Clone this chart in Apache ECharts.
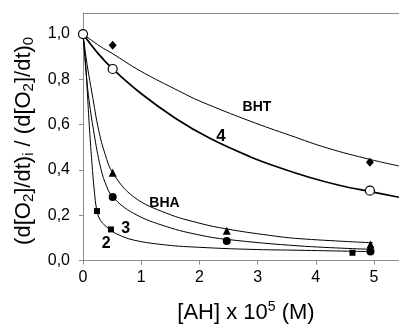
<!DOCTYPE html>
<html>
<head>
<meta charset="utf-8">
<script src="https://cdn.jsdelivr.net/npm/echarts@6/dist/echarts.min.js"></script>
<style>
  html, body { margin: 0; padding: 0; background: #fff; }
  #chart { width: 399px; height: 324px; }
</style>
</head>
<body>
<div id="chart"></div>
<script>
  // tick labels
  const xTicks = [0, 1, 2, 3, 4, 5];
  const yTicks = [0, 0.2, 0.4, 0.6, 0.8, 1.0];

  // fitted curves
  const bhtCurveX = [0, 0.3, 0.5, 0.98, 1.67, 2.01, 2.87, 3.56, 4.2, 4.93, 5.43];
  const bhtCurveY = [1, 0.945, 0.915, 0.838, 0.746, 0.704, 0.616, 0.553, 0.497, 0.447, 0.418];
  const c4CurveX = [0, 0.25, 0.51, 0.98, 1.58, 2.18, 2.87, 3.38, 3.9, 4.4, 4.93, 5.43];
  const c4CurveY = [1, 0.917, 0.846, 0.741, 0.63, 0.54, 0.459, 0.41, 0.367, 0.333, 0.305, 0.28];
  const bhaCurveX = [0, 0.04, 0.08, 0.154, 0.27, 0.38, 0.51, 0.87, 1.44, 2.01, 2.47, 3.2, 3.73, 4.98];
  const bhaCurveY = [1, 0.92, 0.85, 0.74, 0.575, 0.47, 0.388, 0.282, 0.209, 0.165, 0.14, 0.112, 0.097, 0.079];
  const c3CurveX = [0, 0.03, 0.06, 0.108, 0.18, 0.285, 0.38, 0.51, 0.87, 1.44, 2.01, 2.47, 3.73, 4.98];
  const c3CurveY = [1, 0.9, 0.81, 0.7, 0.577, 0.43, 0.345, 0.282, 0.209, 0.15, 0.113, 0.094, 0.065, 0.05];
  const c2CurveX = [0, 0.045, 0.079, 0.113, 0.154, 0.193, 0.24, 0.3, 0.38, 0.48, 0.58, 0.87, 1.44, 2.01, 2.87, 3.73, 4.98];
  const c2CurveY = [1, 0.871, 0.723, 0.577, 0.43, 0.312, 0.219, 0.178, 0.155, 0.135, 0.118, 0.091, 0.069, 0.059, 0.05, 0.046, 0.04];

  // measured points
  const bhtPointsX = [0.51, 4.93];
  const bhtPointsY = [0.951, 0.434];
  const c4PointsX = [0, 0.51, 4.93];
  const c4PointsY = [1.0, 0.846, 0.309];
  const bhaPointsX = [0.51, 2.47, 4.94];
  const bhaPointsY = [0.388, 0.132, 0.072];
  const c3PointsX = [0.51, 2.47, 4.94];
  const c3PointsY = [0.281, 0.087, 0.041];
  const c2PointsX = [0.24, 0.48, 4.63];
  const c2PointsY = [0.219, 0.138, 0.035];

  // curve labels (data coordinates)
  const noteText = ["BHT", "4", "BHA", "3", "2"];
  const noteX = [2.99, 2.37, 1.40, 0.735, 0.40];
  const noteY = [0.678, 0.55, 0.255, 0.14, 0.074];

  const FONT = "Liberation Sans, Arial, sans-serif";
  const AXIS_GREY = "#8c8c8c";
  const noteSize = { "BHT": 14, "4": 17, "BHA": 14, "3": 16, "2": 16 };

  function zip(xs, ys) {
    return xs.map((x, i) => [x, ys[i]]);
  }

  function curve(xs, ys, width) {
    return {
      type: "line",
      data: zip(xs, ys),
      smooth: 0.4,
      showSymbol: false,
      symbol: "none",
      clip: true,
      lineStyle: { color: "#000", width: width, opacity: 1 },
      z: 2
    };
  }

  function markers(xs, ys, symbol, size, hollow) {
    return {
      type: "scatter",
      data: zip(xs, ys),
      symbol: symbol,
      symbolSize: size,
      itemStyle: hollow
        ? { color: "#fff", borderColor: "#000", borderWidth: 1.2, opacity: 1 }
        : { color: "#000", opacity: 1 },
      z: 5
    };
  }

  const chart = echarts.init(document.getElementById("chart"), null, { renderer: "canvas" });

  chart.setOption({
    animation: false,
    backgroundColor: "#fff",
    textStyle: { fontFamily: FONT },
    grid: { left: 83, right: 0, top: 13, bottom: 63.3, containLabel: false, outerBoundsMode: "none" },
    xAxis: [{
      type: "value",
      min: 0,
      max: 5.43,
      axisLine: { show: true, lineStyle: { color: AXIS_GREY, width: 1 } },
      axisTick: { show: true, inside: false, length: 4, customValues: xTicks, lineStyle: { color: AXIS_GREY } },
      axisLabel: {
        customValues: xTicks,
        color: "#000",
        fontSize: 16,
        fontFamily: FONT,
        margin: 9,
        formatter: (v) => String(v)
      },
      splitLine: { show: false },
      name: "[AH] x 10{sup|5} (M)",
      nameLocation: "middle",
      nameGap: 39,
      nameTextStyle: {
        color: "#000",
        fontSize: 22,
        lineHeight: 26,
        fontFamily: FONT,
        padding: [0, 0, 0, 10],
        rich: {
          sup: { fontSize: 14, lineHeight: 14, fontFamily: FONT, color: "#000", verticalAlign: "top" }
        }
      }
    }, {
      type: "value",
      position: "top",
      min: 0,
      max: 5.43,
      axisLine: { show: true, onZero: false, lineStyle: { color: AXIS_GREY, width: 1 } },
      axisTick: { show: false },
      axisLabel: { show: false },
      splitLine: { show: false }
    }],
    yAxis: {
      type: "value",
      min: 0,
      max: 1.093,
      axisLine: { show: true, lineStyle: { color: AXIS_GREY, width: 1 } },
      axisTick: { show: true, inside: false, length: 4, customValues: yTicks, lineStyle: { color: AXIS_GREY } },
      axisLabel: {
        customValues: yTicks,
        color: "#000",
        fontSize: 16,
        fontFamily: FONT,
        margin: 13,
        formatter: (v) => v.toFixed(1).replace(".", ",")
      },
      splitLine: { show: false },
      name: "(d[O{sub|2}]/dt){sub|i} / (d[O{sub|2}]/dt){sub|0}",
      nameLocation: "middle",
      nameRotate: 90,
      nameGap: 41,
      nameTextStyle: {
        color: "#000",
        fontSize: 22,
        lineHeight: 26,
        fontFamily: FONT,
        padding: [0, 8, 0, 0],
        rich: {
          sub: { fontSize: 15, fontFamily: FONT, color: "#000", verticalAlign: "bottom" }
        }
      }
    },
    series: [
      curve(bhtCurveX, bhtCurveY, 1),
      curve(c4CurveX, c4CurveY, 1.7),
      curve(bhaCurveX, bhaCurveY, 1),
      curve(c3CurveX, c3CurveY, 1),
      curve(c2CurveX, c2CurveY, 1),
      markers(bhtPointsX, bhtPointsY, "diamond", [8, 9], false),
      markers(c4PointsX, c4PointsY, "circle", 9, true),
      markers(bhaPointsX, bhaPointsY, "triangle", 8, false),
      markers(c3PointsX, c3PointsY, "circle", 8, false),
      markers(c2PointsX, c2PointsY, "rect", 6, false),
      {
        type: "scatter",
        symbolSize: 0,
        silent: true,
        z: 6,
        itemStyle: { opacity: 1 },
        data: noteText.map((t, i) => ({
          name: t,
          value: [noteX[i], noteY[i]],
          label: { fontSize: noteSize[t] }
        })),
        label: {
          show: true,
          position: "inside",
          formatter: (p) => p.name,
          color: "#000",
          opacity: 1,
          fontWeight: "bold",
          fontFamily: FONT
        }
      }
    ]
  });
</script>
</body>
</html>
